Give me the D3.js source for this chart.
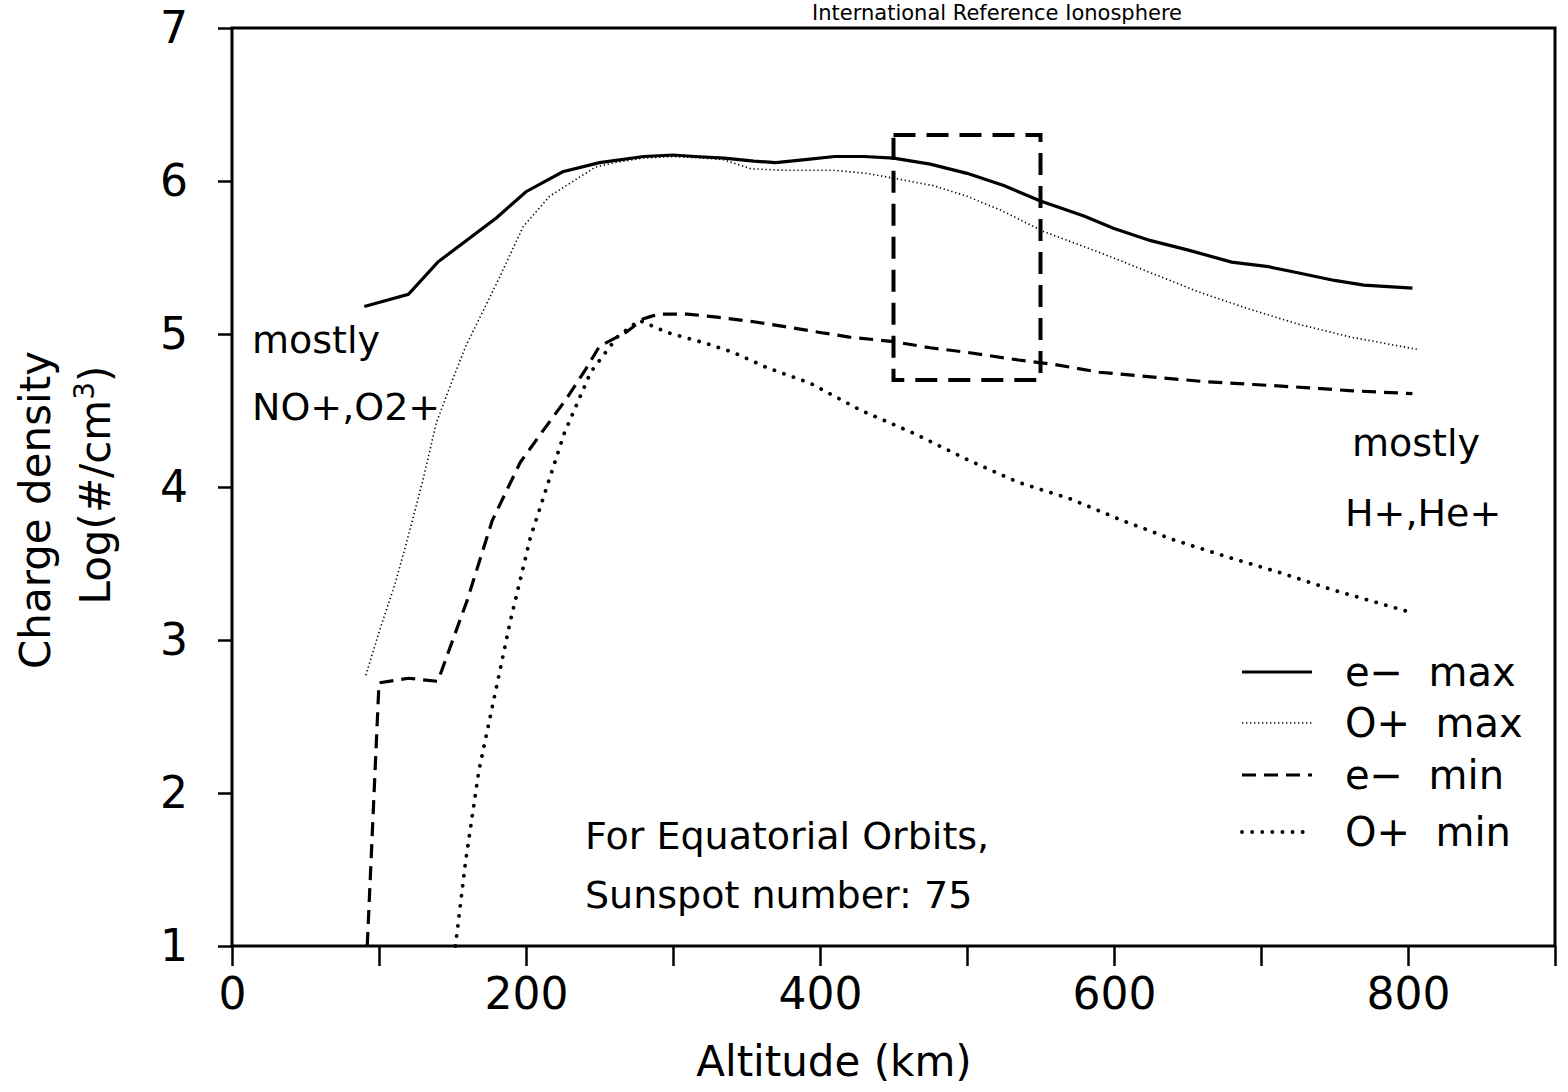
<!DOCTYPE html>
<html>
<head>
<meta charset="utf-8">
<script src="https://cdn.jsdelivr.net/npm/d3@7"></script>
<style>
  body { margin: 0; background: #fff; }
  .chart { width: 1568px; height: 1092px; }
  text { font-family: 'DejaVu Sans', sans-serif; fill: #000; }
</style>
</head>
<body>
<div class="chart"></div>
<script>
// altitude (km), log10 density (#/cm3)
let eMax = [[90, 5.18], [120, 5.26], [140, 5.47], [180, 5.76], [200, 5.93], [225, 6.06], [250, 6.12],
  [280, 6.16], [300, 6.17], [315, 6.16], [335, 6.15], [355, 6.13], [370, 6.12], [390, 6.14],
  [410, 6.16], [430, 6.16], [450, 6.15], [475, 6.11], [500, 6.05], [525, 5.97], [550, 5.87],
  [580, 5.77], [600, 5.69], [625, 5.61], [650, 5.55], [680, 5.47], [705, 5.44], [725, 5.40],
  [750, 5.35], [770, 5.32], [803, 5.30]]
let oMax = [[91, 2.77], [101, 3.08], [111, 3.37], [118, 3.61], [130, 4.05], [139, 4.42], [150, 4.70],
  [159, 4.92], [181, 5.35], [198, 5.70], [216, 5.90], [247, 6.09], [260, 6.12], [280, 6.15],
  [300, 6.16], [320, 6.15], [334, 6.14], [353, 6.08], [375, 6.07], [409, 6.07], [432, 6.05],
  [449, 6.02], [477, 5.97], [500, 5.90], [523, 5.81], [552, 5.67], [591, 5.53], [625, 5.40],
  [659, 5.27], [693, 5.16], [727, 5.06], [761, 4.98], [806, 4.90]]
let eMin = [[92, 1.0], [100, 2.72], [120, 2.75], [140, 2.73], [160, 3.26], [177, 3.78], [196, 4.16],
  [211, 4.36], [227, 4.57], [240, 4.76], [250, 4.92], [268, 5.01], [280, 5.10], [290, 5.13],
  [310, 5.13], [330, 5.11], [355, 5.08], [375, 5.05], [400, 5.01], [420, 4.98], [450, 4.95],
  [475, 4.91], [500, 4.88], [535, 4.83], [560, 4.80], [590, 4.75], [625, 4.72], [660, 4.69],
  [695, 4.67], [730, 4.65], [760, 4.63], [803, 4.61]]
let oMin = [[152, 1.0], [159, 1.56], [168, 2.15], [177, 2.56], [189, 3.11], [203, 3.67], [226, 4.35],
  [244, 4.75], [262, 4.98], [277, 5.09], [296, 5.01], [322, 4.94], [341, 4.88], [364, 4.78],
  [393, 4.68], [428, 4.50], [464, 4.35], [500, 4.18], [535, 4.03], [571, 3.92], [606, 3.78],
  [642, 3.65], [678, 3.54], [713, 3.44], [748, 3.33], [802, 3.18]]

let seriesNames = ['e\u2212  max', 'O+  max', 'e\u2212  min', 'O+  min']
let xTicks = [0, 100, 200, 300, 400, 500, 600, 700, 800, 900]
let xLabels = [0, 200, 400, 600, 800]
let yTicks = [1, 2, 3, 4, 5, 6, 7]
let boxAlt = [450, 550]
let boxLog = [4.7, 6.3]

let el = d3.select('.chart')
init()

function init () {
  let theme = {
    width: 1568,
    height: 1092,
    left: 232,
    right: 1555,
    top: 28,
    bottom: 946
  }
  let svg = el.append('svg')
    .attr('width', theme.width)
    .attr('height', theme.height)
  let x = d3.scaleLinear().domain([0, 900]).range([theme.left, theme.right])
  let y = d3.scaleLinear().domain([1, 7]).range([theme.bottom, theme.top])

  drawAxis(theme, svg, x, y)
  drawLines(svg, x, y)
  drawLegend(svg)
  drawNotes(svg)
}

function drawAxis (theme, svg, x, y) {
  // frame
  svg.append('rect')
    .attr('x', theme.left)
    .attr('y', theme.top)
    .attr('width', theme.right - theme.left)
    .attr('height', theme.bottom - theme.top)
    .attr('fill', 'none')
    .attr('stroke', '#000')
    .attr('stroke-width', 3)

  let gx = svg.append('g')
    .attr('transform', 'translate(0,' + theme.bottom + ')')
    .call(d3.axisBottom(x).tickValues(xTicks).tickSize(20).tickPadding(12)
      .tickFormat(d => xLabels.includes(d) ? d : ''))
  gx.select('.domain').remove()
  gx.selectAll('line').attr('stroke-width', 2.5)
  gx.selectAll('text').attr('font-size', 44)

  let gy = svg.append('g')
    .attr('transform', 'translate(' + theme.left + ',0)')
    .call(d3.axisLeft(y).tickValues(yTicks).tickSize(14).tickPadding(30)
      .tickFormat(d3.format('d')))
  gy.select('.domain').remove()
  gy.selectAll('line').attr('stroke-width', 2.5)
  gy.selectAll('text').attr('font-size', 44)

  svg.append('text')
    .attr('x', 834)
    .attr('y', 1076)
    .attr('text-anchor', 'middle')
    .attr('font-size', 42)
    .text('Altitude (km)')

  svg.append('text')
    .attr('transform', 'translate(50,510) rotate(-90)')
    .attr('text-anchor', 'middle')
    .attr('font-size', 42)
    .text('Charge density')

  let yl = svg.append('text')
    .attr('transform', 'translate(110,485) rotate(-90)')
    .attr('text-anchor', 'middle')
    .attr('font-size', 42)
  yl.append('tspan').text('Log(#/cm')
  yl.append('tspan').attr('font-size', 28).attr('dy', -16).text('3')
  yl.append('tspan').attr('dy', 16).text(')')

  // title squeezed above the frame
  svg.append('text')
    .attr('x', 1182)
    .attr('y', 20)
    .attr('text-anchor', 'end')
    .attr('font-size', 21)
    .text('International Reference Ionosphere')
}

function drawLines (svg, x, y) {
  let line = d3.line().x(d => x(d[0])).y(d => y(d[1]))
  let styles = [
    { data: eMax, width: 3.2, dash: null, cap: 'butt' },
    { data: oMax, width: 1.6, dash: '1.3 2.7', cap: 'butt' },
    { data: eMin, width: 3.2, dash: '14 8', cap: 'butt' },
    { data: oMin, width: 3.8, dash: '0.1 10', cap: 'round' }
  ]
  svg.append('g').selectAll('path')
    .data(styles)
    .enter()
    .append('path')
    .attr('d', d => line(d.data))
    .attr('fill', 'none')
    .attr('stroke', '#000')
    .attr('stroke-width', d => d.width)
    .attr('stroke-dasharray', d => d.dash)
    .attr('stroke-linecap', d => d.cap)

  // dashed box
  svg.append('rect')
    .attr('x', x(boxAlt[0]))
    .attr('y', y(boxLog[1]))
    .attr('width', x(boxAlt[1]) - x(boxAlt[0]))
    .attr('height', y(boxLog[0]) - y(boxLog[1]))
    .attr('fill', 'none')
    .attr('stroke', '#000')
    .attr('stroke-width', 4)
    .attr('stroke-dasharray', '22 11')
}

function drawLegend (svg) {
  let rows = [672, 723, 775, 832]
  let dashes = [null, '1.3 2.7', '14 8', '0.1 10']
  let widths = [3.2, 1.6, 3.2, 3.8]
  let caps = ['butt', 'butt', 'butt', 'round']
  let g = svg.append('g').attr('class', 'legend')
  let item = g.selectAll('g')
    .data(seriesNames)
    .enter()
    .append('g')
  item.append('line')
    .attr('x1', 1242)
    .attr('x2', 1312)
    .attr('y1', (d, i) => rows[i])
    .attr('y2', (d, i) => rows[i])
    .attr('stroke', '#000')
    .attr('stroke-width', (d, i) => widths[i])
    .attr('stroke-dasharray', (d, i) => dashes[i])
    .attr('stroke-linecap', (d, i) => caps[i])
  item.append('text')
    .attr('x', 1345)
    .attr('y', (d, i) => rows[i] + 14)
    .attr('font-size', 40)
    .style('white-space', 'pre')
    .text(d => d)
}

function drawNotes (svg) {
  let notes = [
    { x: 252, y: 353, t: 'mostly' },
    { x: 252, y: 420, t: 'NO+,O2+' },
    { x: 1352, y: 456, t: 'mostly' },
    { x: 1345, y: 526, t: 'H+,He+' },
    { x: 585, y: 849, t: 'For Equatorial Orbits,' },
    { x: 585, y: 908, t: 'Sunspot number: 75' }
  ]
  svg.append('g').selectAll('text')
    .data(notes)
    .enter()
    .append('text')
    .attr('x', d => d.x)
    .attr('y', d => d.y)
    .attr('font-size', 38)
    .text(d => d.t)
}
</script>
</body>
</html>
